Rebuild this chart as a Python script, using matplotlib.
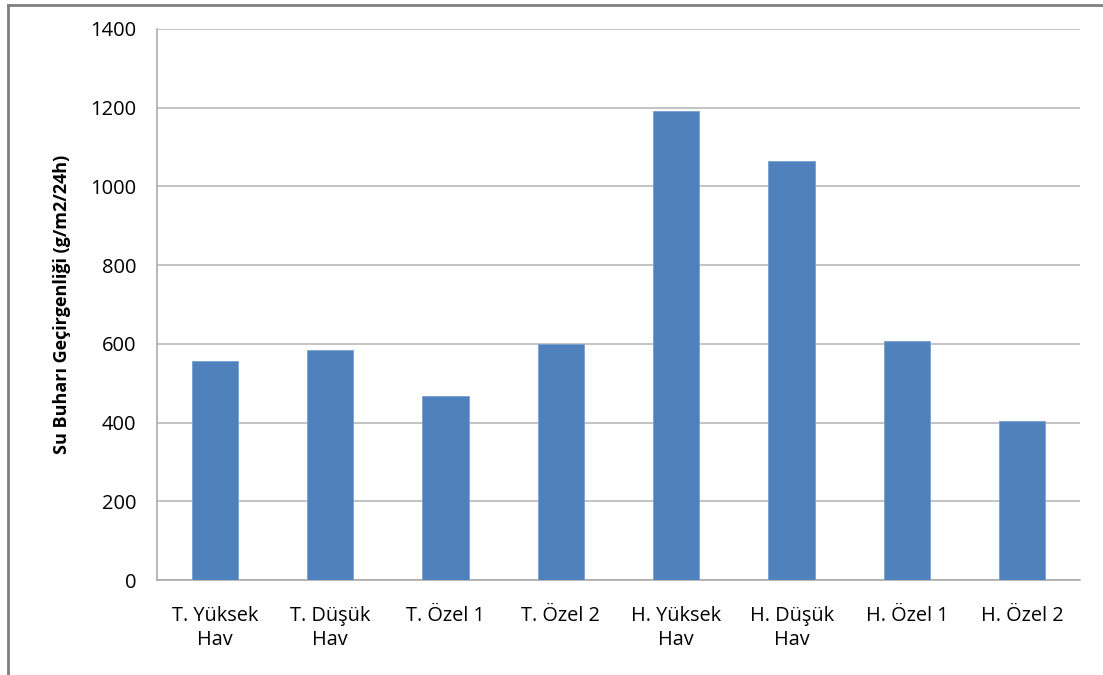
import matplotlib
matplotlib.use("Agg")
import matplotlib.pyplot as plt
from matplotlib.lines import Line2D

categories = ["T. Yüksek\nHav", "T. Düşük\nHav", "T. Özel 1", "T. Özel 2",
              "H. Yüksek\nHav", "H. Düşük\nHav", "H. Özel 1", "H. Özel 2"]
values = [556, 584, 468, 600, 1192, 1065, 608, 403]
yticks = [0, 200, 400, 600, 800, 1000, 1200, 1400]

plt.rcParams['font.family'] = ['Open Sans', 'DejaVu Sans']

W, H = 1103, 675
fig = plt.figure(figsize=(W / 100, H / 100), dpi=100)
ax = fig.add_axes([157 / W, (H - 580) / H, (1080 - 157) / W, (580 - 29) / H])

x = list(range(len(categories)))
ax.bar(x, values, width=0.4, color="#4F81BD", edgecolor="#7BA0CD", linewidth=0.6, zorder=3)

ax.set_xlim(-0.5, len(categories) - 0.5)
ax.set_ylim(0, 1400)
ax.set_yticks(yticks)
ax.set_yticklabels([str(v) for v in yticks], fontsize=14.5, color="#000000")
ax.set_xticks(x)
ax.set_xticklabels(categories, fontsize=14.3, color="#000000", linespacing=1.25)
ax.tick_params(axis="both", length=0)
ax.tick_params(axis="y", pad=15)
ax.tick_params(axis="x", pad=19)

ax.grid(axis="y", color="#B3B3B3", linewidth=1.1, zorder=0)
for side in ["top", "right"]:
    ax.spines[side].set_visible(False)
for side in ["left", "bottom"]:
    ax.spines[side].set_color("#A6A6A6")
    ax.spines[side].set_linewidth(1.1)

ax.set_ylabel("Su Buharı Geçirgenliği (g/m2/24h)", fontsize=13, fontweight="bold", labelpad=14)

# outer frame of the chart area
fig.add_artist(Line2D([8 / W, 8 / W], [0, 1 - 5 / H], color="#7F7F7F", linewidth=2, transform=fig.transFigure))
fig.add_artist(Line2D([8 / W, 1], [1 - 5 / H, 1 - 5 / H], color="#7F7F7F", linewidth=2, transform=fig.transFigure))

fig.savefig("out.png", dpi=100, facecolor="white")
